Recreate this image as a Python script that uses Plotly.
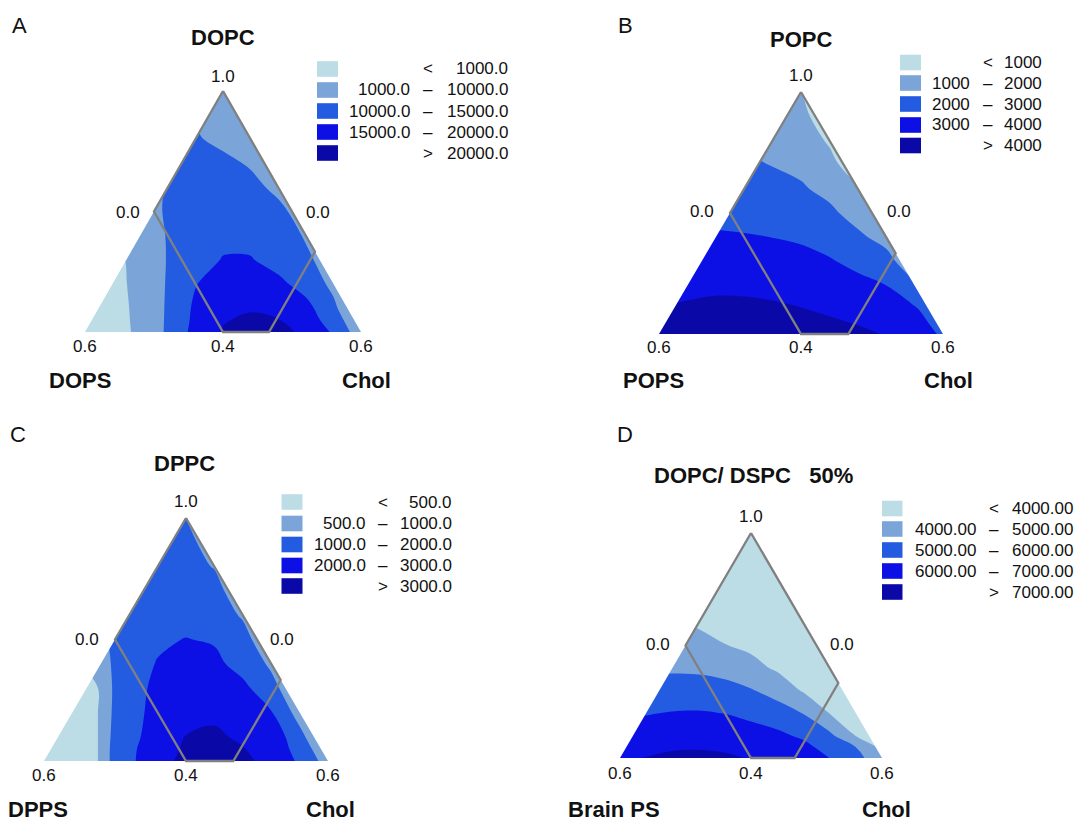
import plotly.graph_objects as go

W, H = 1077, 822
FONT = "Liberation Sans, Arial, Helvetica, sans-serif"

# ---------------- data ----------------
# grid in normalised triangle coordinates: x along the base (PS corner -> Chol corner),
# y = height (0 = base with PC 0.4, 1 = PC apex)
X_GRID = [0.0, 0.1, 0.2, 0.3, 0.4, 0.5, 0.6, 0.7, 0.8, 0.9, 1.0]
Y_GRID = [0.0, 0.05, 0.1, 0.2, 0.3, 0.4, 0.5, 0.6, 0.7, 0.8, 0.9, 1.0]

BAND_COLORS = ["#BCDCE6", "#7BA5D8", "#235CE0", "#0C10E4", "#0A09A8"]
OUTLINE_COLOR = "#808080"

TICK_LABELS = ["1.0", "0.6", "0.4", "0.6", "0.0", "0.0"]

# design-space polygon (component fractions)
REGION_PC = [1.0, 0.7, 0.4, 0.4, 0.6, 1.0]
REGION_PS = [0.0, 0.3, 0.3, 0.2, 0.0, 0.0]
REGION_CHOL = [0.0, 0.0, 0.3, 0.4, 0.4, 0.0]

A_NAMES = ["DOPC", "DOPS", "Chol"]
A_LEVELS = [1000, 10000, 15000, 20000]
A_Z = [
    [-9000, -4200, 3600, 11140, 16510, 20200, 21400, 21200, 19200, 14350, 7100],
    [-9000, -3700, 3775, 11000, 16050, 19800, 20500, 20100, 17600, 12570, 5600],
    [-9000, -3350, 3900, 10870, 15800, 18700, 19700, 19200, 16600, 10970, 4475],
    [-10000, -2520, 4250, 10625, 14800, 17300, 17800, 16200, 12950, 8850, 4000],
    [-8000, -1900, 4520, 10400, 12950, 15250, 15300, 13080, 10670, 8300, 4000],
    [-5000, 200, 5500, 10450, 12700, 13800, 13500, 12000, 9650, 7000, 4000],
    [2000, 5000, 7600, 10600, 12000, 12400, 11900, 10700, 8700, 6500, 4000],
    [3000, 6000, 8800, 10300, 11300, 11300, 10800, 9350, 7800, 6000, 4000],
    [4000, 7000, 9500, 10600, 11000, 10700, 9700, 8500, 7000, 5500, 4000],
    [5000, 7500, 9500, 10100, 10300, 9300, 8300, 7200, 6000, 5000, 4000],
    [5500, 7000, 8500, 9300, 9500, 8800, 8000, 7000, 6000, 5000, 4000],
    [6000, 7000, 8000, 8500, 8700, 8200, 7500, 6800, 6000, 5000, 4000],
]

B_NAMES = ["POPC", "POPS", "Chol"]
B_LEVELS = [1000, 2000, 3000, 4000]
B_Z = [
    [4330, 4480, 4594, 4598, 4530, 4423, 4296, 4166, 3950, 3714, 2800],
    [4180, 4310, 4406, 4405, 4340, 4230, 4093, 3942, 3717, 3429, 2500],
    [4030, 4130, 4218, 4212, 4146, 4038, 3891, 3717, 3481, 3143, 2200],
    [3730, 3790, 3842, 3826, 3762, 3654, 3486, 3269, 3009, 2210, 1600],
    [3420, 3445, 3466, 3440, 3377, 3270, 3081, 2765, 2347, 1300, 900],
    [3120, 3100, 3090, 3054, 2993, 2882, 2636, 2176, 1680, 700, 500],
    [2850, 2810, 2786, 2744, 2650, 2490, 2182, 1650, 1100, 400, 300],
    [2600, 2540, 2506, 2446, 2308, 2098, 1758, 1150, 700, 300, 250],
    [2350, 2270, 2225, 2149, 1970, 1800, 1300, 400, 350, 250, 200],
    [2100, 2010, 1950, 1875, 1640, 1533, 880, 300, 250, 150, 100],
    [1850, 1800, 1750, 1650, 1350, 1250, 450, 200, 150, 100, 50],
    [1600, 1600, 1550, 1450, 1100, 980, 350, 150, 100, 50, 0],
]

C_NAMES = ["DPPC", "DPPS", "Chol"]
C_LEVELS = [500, 1000, 2000, 3000]
C_Z = [
    [-2000, -700, 635, 1802, 2667, 3250, 3330, 3230, 2695, 1857, 560],
    [-2000, -700, 635, 1785, 2571, 3120, 3200, 3030, 2700, 1600, 205],
    [-2000, -700, 635, 1702, 2434, 3020, 3100, 2900, 2700, 1300, -200],
    [-2000, -700, 635, 1593, 2350, 2800, 2880, 2600, 2060, 594, -500],
    [-2000, -700, 635, 1549, 2250, 2650, 2650, 2250, 1308, 200, -800],
    [-1000, 400, 700, 1550, 2050, 2480, 2250, 1615, 846, 0, -1000],
    [-500, 500, 900, 1250, 1850, 2030, 1900, 1400, 150, -500, -1200],
    [0, 500, 900, 1150, 1500, 1650, 1550, 887, 0, -800, -1500],
    [0, 500, 800, 1050, 1350, 1450, 1300, 443, -200, -900, -1500],
    [0, 500, 800, 1050, 1200, 1280, 958, 300, -300, -900, -1500],
    [0, 500, 800, 1050, 1150, 1110, 821, 200, -300, -900, -1500],
    [0, 500, 800, 1000, 1050, 1000, 700, 200, -300, -900, -1500],
]

D_NAMES = ["DOPC/ DSPC\u00a0\u00a0 50%", "Brain PS", "Chol"]
D_LEVELS = [4000, 5000, 6000, 7000]
D_Z = [
    [6850, 7027, 7180, 7210, 7143, 6940, 6900, 6684, 5990, 5385, 4222],
    [6600, 6757, 6888, 6915, 6840, 6661, 6570, 6256, 5609, 4990, 3700],
    [6350, 6486, 6607, 6633, 6554, 6379, 6200, 5829, 5219, 3960, 3400],
    [5842, 5941, 6045, 6068, 5980, 5769, 5459, 4962, 3960, 3570, 3100],
    [5316, 5353, 5414, 5429, 5327, 5070, 4620, 3904, 3560, 3200, 2800],
    [4897, 4879, 4868, 4830, 4675, 4297, 3867, 3504, 3160, 2900, 2600],
    [4641, 4576, 4491, 4330, 4026, 3814, 3517, 3104, 2800, 2600, 2400],
    [4385, 4273, 4113, 3881, 3712, 3514, 3167, 2800, 2500, 2400, 2200],
    [4128, 3970, 3790, 3530, 3412, 3214, 2900, 2500, 2250, 2200, 2000],
    [3900, 3700, 3500, 3200, 3112, 2914, 2650, 2300, 2050, 1900, 1800],
    [3700, 3500, 3300, 2900, 2850, 2614, 2400, 2100, 1850, 1700, 1600],
    [3500, 3300, 3100, 2700, 2600, 2400, 2200, 1900, 1700, 1500, 1300],
]

# ---------------- layout (pixel geometry) ----------------
PANELS = [
    dict(letter="A", names=A_NAMES, levels=A_LEVELS, z=A_Z, dec=1,
         L=(85, 332), R=(361, 332), T=(223, 91),
         letter_xy=(20, 26), title_xy=(223, 37), ps_xy=(80, 381), chol_xy=(366, 381),
         top_y=76, bot_y=346, left00=(128, 212), right00=(318, 212),
         sw=(317, 338), rows=[69, 90, 111, 132, 153], lo_x=412, sym_x=428, hi_x=510),
    dict(letter="B", names=B_NAMES, levels=B_LEVELS, z=B_Z, dec=0,
         L=(659, 334), R=(943, 334), T=(801, 92),
         letter_xy=(625, 25), title_xy=(801, 39), ps_xy=(653, 380), chol_xy=(948, 380),
         top_y=75, bot_y=348, left00=(702, 211), right00=(899, 211),
         sw=(900, 921), rows=[62.5, 83, 104, 125, 145.5], lo_x=972, sym_x=988, hi_x=1044),
    dict(letter="C", names=C_NAMES, levels=C_LEVELS, z=C_Z, dec=1,
         L=(44, 761), R=(328, 761), T=(186, 518),
         letter_xy=(18, 435), title_xy=(184, 463), ps_xy=(38, 809), chol_xy=(330, 809),
         top_y=501, bot_y=775, left00=(87, 639), right00=(282, 639),
         sw=(281.5, 302.5), rows=[502, 523.5, 544.5, 565.5, 586], lo_x=367.5, sym_x=383, hi_x=454),
    dict(letter="D", names=D_NAMES, levels=D_LEVELS, z=D_Z, dec=2,
         L=(620, 758), R=(882, 758), T=(751, 533),
         letter_xy=(625, 435), title_xy=(753, 476), ps_xy=(614, 809), chol_xy=(886, 809),
         top_y=516, bot_y=773, left00=(658, 644), right00=(842, 644),
         sw=(882, 902.5), rows=[508.5, 529, 550, 571, 592], lo_x=978, sym_x=994, hi_x=1075),
]

PAD = 0.04


def px(x):
    return x / W


def py(y):
    return 1 - y / H


def ann(text, x, y, size, bold=False, xanchor="center", color="#111111"):
    return dict(text=f"<b>{text}</b>" if bold else text, x=px(x), y=py(y),
                xref="paper", yref="paper", showarrow=False,
                xanchor=xanchor, yanchor="middle",
                font=dict(family=FONT, size=size, color=color))


fig = go.Figure()
annotations = []
shapes = []

region_x = []
region_y = []
for pc, chol in zip(REGION_PC, REGION_CHOL):
    yy = (pc - 0.4) / 0.6
    region_y.append(yy)
    region_x.append(chol / 0.6 + yy / 2)

for i, p in enumerate(PANELS):
    n = "" if i == 0 else str(i + 1)
    xa, ya = "x" + n, "y" + n
    Lx, by = p["L"]
    Rx = p["R"][0]
    Ty = p["T"][1]
    w = Rx - Lx
    h = by - Ty
    fig.update_layout(**{
        "xaxis" + n: dict(domain=[px(Lx - PAD * w), px(Rx + PAD * w)], range=[-PAD, 1 + PAD],
                          visible=False, fixedrange=True, anchor=ya),
        "yaxis" + n: dict(domain=[py(by + PAD * h), py(Ty - PAD * h)], range=[-PAD, 1 + PAD],
                          visible=False, fixedrange=True, anchor=xa),
    })
    # lowest band everywhere, then one filled layer above each level
    # (plotly shades the region that violates the constraint, so "<" shades z > value)
    band_values = [-1e12] + list(p["levels"])
    for k, lv in enumerate(band_values):
        fig.add_trace(go.Contour(
            x=X_GRID, y=Y_GRID, z=p["z"],
            contours=dict(type="constraint", operation="<", value=lv),
            fillcolor=BAND_COLORS[k],
            line=dict(width=0, color=BAND_COLORS[k], smoothing=1.1),
            showscale=False, hoverinfo="skip", showlegend=False, xaxis=xa, yaxis=ya))
    # white masks outside the triangle
    for mx, my in (([0, 0.5, 0.5, -0.1, -0.1, 0], [0, 1, 1.1, 1.1, 0, 0]),
                   ([1, 0.5, 0.5, 1.1, 1.1, 1], [0, 1, 1.1, 1.1, 0, 0])):
        fig.add_trace(go.Scatter(x=mx, y=my, mode="lines", fill="toself", fillcolor="white",
                                 line=dict(width=0, color="white"), hoverinfo="skip",
                                 showlegend=False, xaxis=xa, yaxis=ya))
    fig.add_trace(go.Scatter(x=region_x, y=region_y, mode="lines",
                             line=dict(color=OUTLINE_COLOR, width=2.3),
                             hoverinfo="skip", showlegend=False, xaxis=xa, yaxis=ya))

    # texts
    annotations.append(ann(p["letter"], *p["letter_xy"], 22))
    annotations.append(ann(p["names"][0], *p["title_xy"], 22, bold=True))
    annotations.append(ann(p["names"][1], *p["ps_xy"], 22, bold=True))
    annotations.append(ann(p["names"][2], *p["chol_xy"], 22, bold=True))
    annotations.append(ann(TICK_LABELS[0], p["T"][0], p["top_y"], 17))
    annotations.append(ann(TICK_LABELS[1], Lx, p["bot_y"], 17))
    annotations.append(ann(TICK_LABELS[2], (Lx + Rx) / 2, p["bot_y"], 17))
    annotations.append(ann(TICK_LABELS[3], Rx, p["bot_y"], 17))
    annotations.append(ann(TICK_LABELS[4], *p["left00"], 17))
    annotations.append(ann(TICK_LABELS[5], *p["right00"], 17))

    # legend
    lv = p["levels"]
    fmt = lambda v, d=p["dec"]: f"{v:.{d}f}"
    rows = p["rows"]
    for r, yc in enumerate(rows):
        shapes.append(dict(type="rect", xref="paper", yref="paper",
                           x0=px(p["sw"][0]), x1=px(p["sw"][1]),
                           y0=py(yc + 7.8), y1=py(yc - 7.8),
                           fillcolor=BAND_COLORS[r], line=dict(width=0), layer="above"))
        if r == 0:
            annotations.append(ann("<", p["sym_x"], yc, 17))
            annotations.append(ann(fmt(lv[0]), p["hi_x"], yc, 17, xanchor="right"))
        elif r == len(rows) - 1:
            annotations.append(ann(">", p["sym_x"], yc, 17))
            annotations.append(ann(fmt(lv[-1]), p["hi_x"], yc, 17, xanchor="right"))
        else:
            annotations.append(ann(fmt(lv[r - 1]), p["lo_x"], yc, 17, xanchor="right"))
            annotations.append(ann("\u2013", p["sym_x"], yc, 17))
            annotations.append(ann(fmt(lv[r]), p["hi_x"], yc, 17, xanchor="right"))

fig.update_layout(width=W, height=H, margin=dict(l=0, r=0, t=0, b=0),
                  paper_bgcolor="white", plot_bgcolor="white", template="none",
                  showlegend=False, annotations=annotations, shapes=shapes)

fig.write_html("out.html")
